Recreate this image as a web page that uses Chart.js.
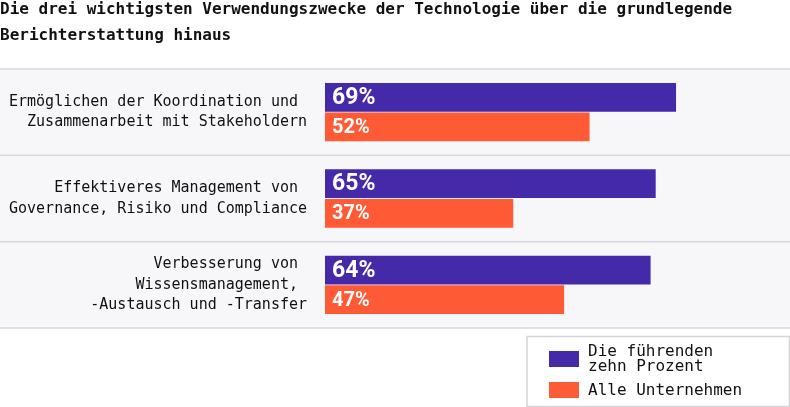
<!DOCTYPE html>
<html>
<head>
<meta charset="utf-8">
<script src="https://cdn.jsdelivr.net/npm/chart.js@4/dist/chart.umd.min.js"></script>
<style>
  html, body { margin: 0; padding: 0; background: #fff; }
  #wrap { width: 790px; height: 407px; position: relative; }
</style>
</head>
<body>
<div id="wrap"><canvas id="chart"></canvas></div>
<script>
const titleLines = ['Die drei wichtigsten Verwendungszwecke der Technologie über die grundlegende', 'Berichterstattung hinaus'];
// trailing spaces keep the monospace right edge like the original
const categories = [
    ['Ermöglichen der Koordination und ', 'Zusammenarbeit mit Stakeholdern'],
    ['Effektiveres Management von ', 'Governance, Risiko und Compliance'],
    ['Verbesserung von ', 'Wissensmanagement, ', '-Austausch und -Transfer']
];
const seriesNames = [['Die führenden', 'zehn Prozent'], ['Alle Unternehmen']];
const topTenPercent = [69, 65, 64];
const allCompanies = [52, 37, 47];
const seriesColors = ['#4429a8', '#ff5a36'];

const mono = '"DejaVu Sans Mono", monospace';

// grey bands behind each category, with separator lines
const bandPlugin = {
    id: 'bands',
    beforeDraw(chart) {
        const ctx = chart.ctx;
        const y = chart.scales.y;
        const step = (y.bottom - y.top) / categories.length;
        ctx.save();
        ctx.fillStyle = '#f7f7f9';
        ctx.fillRect(0, y.top, chart.width, y.bottom - y.top);
        ctx.strokeStyle = '#d9d9dc';
        ctx.lineWidth = 1.5;
        for (let i = 0; i <= categories.length; i++) {
            const yy = y.top + i * step;
            ctx.beginPath();
            ctx.moveTo(0, yy);
            ctx.lineTo(chart.width, yy);
            ctx.stroke();
        }
        ctx.restore();
    }
};

// percentage text inside the bars
const valuePlugin = {
    id: 'values',
    afterDatasetsDraw(chart) {
        const ctx = chart.ctx;
        ctx.save();
        ctx.fillStyle = '#ffffff';
        ctx.textAlign = 'left';
        ctx.textBaseline = 'middle';
        chart.data.datasets.forEach((ds, i) => {
            ctx.font = 'bold ' + (i === 0 ? 23 : 20) + 'px Roboto';
            chart.getDatasetMeta(i).data.forEach((bar, j) => {
                ctx.fillText(ds.data[j] + '%', bar.base + 7, bar.y + 1);
            });
        });
        ctx.restore();
    }
};

// boxed legend in the lower right corner
const legendPlugin = {
    id: 'boxLegend',
    afterDraw(chart) {
        const ctx = chart.ctx;
        const left = 527, top = 336.5, right = 789.5, bottom = 406.5;
        ctx.save();
        ctx.strokeStyle = '#d5d5d8';
        ctx.lineWidth = 1.5;
        ctx.strokeRect(left, top, right - left, bottom - top);
        ctx.font = '16px ' + mono;
        ctx.textBaseline = 'middle';
        ctx.textAlign = 'left';
        const rows = [{ y: 351, lines: seriesNames[0] }, { y: 382, lines: seriesNames[1] }];
        rows.forEach((row, i) => {
            ctx.fillStyle = seriesColors[i];
            ctx.fillRect(549, row.y, 30, 16);
            ctx.fillStyle = '#111';
            const startY = row.lines.length > 1 ? row.y + 1 : row.y + 8.5;
            row.lines.forEach((line, k) => ctx.fillText(line, 588, startY + k * 14.5));
        });
        ctx.restore();
    }
};

new Chart(document.getElementById('chart'), {
    type: 'bar',
    data: {
        labels: categories,
        datasets: [{
            label: seriesNames[0].join(' '),
            data: topTenPercent,
            backgroundColor: seriesColors[0]
        }, {
            label: seriesNames[1].join(' '),
            data: allCompanies,
            backgroundColor: seriesColors[1]
        }]
    },
    options: {
        indexAxis: 'y',
        responsive: true,
        maintainAspectRatio: false,
        animation: false,
        datasets: {
            bar: {
                categoryPercentage: 0.685,
                barPercentage: 0.97
            }
        },
        layout: {
            padding: { left: 0, right: 0, top: 0, bottom: 79 }
        },
        scales: {
            x: {
                display: false,
                min: 0,
                max: 91.4
            },
            y: {
                grid: { display: false, drawTicks: false },
                border: { display: false },
                afterFit: (scale) => { scale.width = 325; },
                ticks: {
                    padding: 18,
                    color: '#111',
                    font: { family: mono, size: 15, lineHeight: 1.35 }
                }
            }
        },
        plugins: {
            legend: { display: false },
            tooltip: { enabled: false },
            title: {
                display: true,
                text: titleLines,
                align: 'start',
                color: '#111',
                font: { family: mono, size: 16, weight: 'bold', lineHeight: 1.625 },
                padding: { top: -3, bottom: 20 }
            }
        }
    },
    plugins: [bandPlugin, valuePlugin, legendPlugin]
});
</script>
</body>
</html>
